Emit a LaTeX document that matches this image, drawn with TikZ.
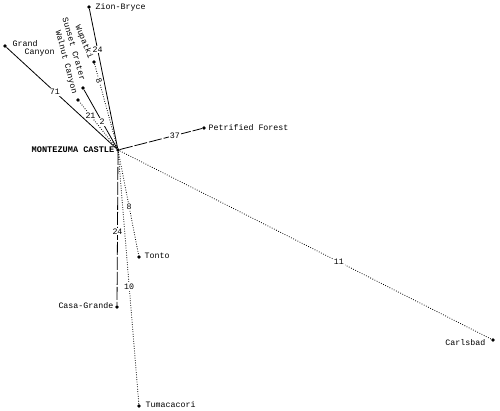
\documentclass[tikz,border=0pt]{standalone}
\usepackage{fontspec}
\setmonofont{Liberation Mono}
\begin{document}
\begin{tikzpicture}[x=1pt,y=-1pt,
  dot/.style={circle,fill=black,inner sep=0pt,minimum size=3.6pt},
  lbl/.style={font=\ttfamily\fontsize{8.3}{9}\selectfont,inner sep=0.5pt},
  hublbl/.style={font=\ttfamily\bfseries\fontsize{8.6}{9}\selectfont,inner sep=0.5pt},
  num/.style={font=\ttfamily\fontsize{8.3}{9}\selectfont,fill=white,inner sep=1pt},
  road/.style={line width=0.8pt},
  dashroad/.style={line width=0.8pt,dash pattern=on 13pt off 2pt},
  dotroad/.style={line width=0.8pt,dash pattern=on 0.8pt off 1.6pt}]
\useasboundingbox (0,0) rectangle (500,411);
% places
\node[dot] (hub) at (118,150) {};
\node[dot] (zion) at (89,7) {};
\node[dot] (grand) at (5,46) {};
\node[dot] (wup) at (94,62) {};
\node[dot] (sun) at (83,88) {};
\node[dot] (wal) at (78,100) {};
\node[dot] (pet) at (204,128) {};
\node[dot] (carl) at (493,340) {};
\node[dot] (tonto) at (139,257) {};
\node[dot] (casa) at (117,307) {};
\node[dot] (tuma) at (139,406) {};
% labels
\node[hublbl,anchor=east] (hubl) at (115,150) {MONTEZUMA CASTLE};
\node[lbl,anchor=west] (zionl) at (95,7) {Zion-Bryce};
\node[lbl,anchor=west,align=left] (grandl) at (12,48) {Grand\\[-1pt]\hspace*{12pt}Canyon};
\node[lbl,rotate=-68] (wupl) at (84,42) {Wupatki};
\node[lbl,rotate=-74] (sunl) at (74,49) {Sunset Crater};
\node[lbl,rotate=-75] (wall) at (66,62) {Walnut Canyon};
\node[lbl,anchor=west] (petl) at (208,128) {Petrified Forest};
\node[lbl,anchor=east] (carll) at (486,343) {Carlsbad};
\node[lbl,anchor=west] (tontol) at (144,256) {Tonto};
\node[lbl,anchor=east] (casal) at (114,306) {Casa-Grande};
\node[lbl,anchor=west] (tumal) at (145,405) {Tumacacori};
% roads
\draw[road] (hub) -- node[num,pos=0.71] {24} (zion);
\draw[road] (hub) -- node[num,pos=0.56] {71} (grand);
\draw[dotroad] (hub) -- node[num,pos=0.8,rotate=-68] {8} (wup);
\draw[road] (hub) -- node[num,pos=0.45] {2} (sun);
\draw[dotroad] (hub) -- node[num,pos=0.7] {21} (wal);
\draw[dashroad] (hub) -- node[num,pos=0.67] {37} (pet);
\draw[dotroad] (hub) -- node[num,pos=0.59] {11} (carl);
\draw[dotroad] (hub) -- node[num,pos=0.53] {8} (tonto);
\draw[dashroad] (hub) -- node[num,pos=0.52] {24} (casa);
\draw[dotroad] (hub) -- node[num,pos=0.535] {10} (tuma);
\end{tikzpicture}
\end{document}
